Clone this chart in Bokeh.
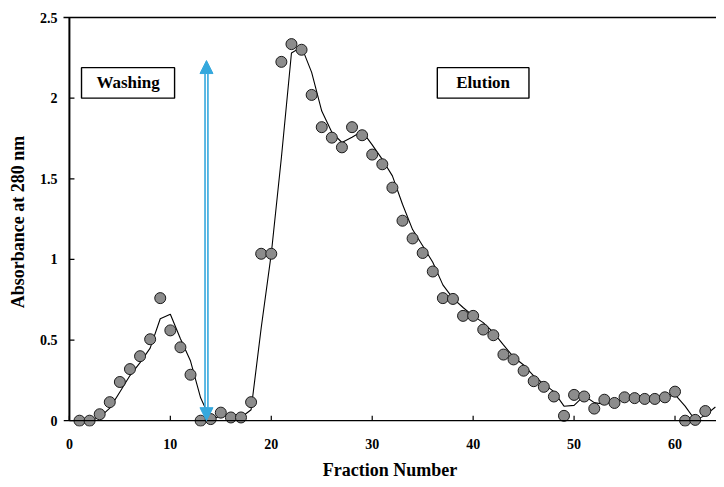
from bokeh.plotting import figure
from bokeh.models import Range1d, LinearAxis, BoxAnnotation, Label, Arrow, NormalHead, FixedTicker, Span
from bokeh.embed import file_html
from bokeh.resources import INLINE

# Measured absorbance (points)
fractions = [1, 2, 3, 4, 5, 6, 7, 8, 9, 10, 11, 12, 13, 14, 15, 16, 17, 18, 19, 20,
             21, 22, 23, 24, 25, 26, 27, 28, 29, 30, 31, 32, 33, 34, 35, 36, 37, 38, 39, 40,
             41, 42, 43, 44, 45, 46, 47, 48, 49, 50, 51, 52, 53, 54, 55, 56, 57, 58, 59, 60,
             61, 62, 63]
absorbance = [0.0, 0.0, 0.04, 0.115, 0.24, 0.32, 0.40, 0.505, 0.76, 0.56,
              0.455, 0.285, 0.0, 0.01, 0.05, 0.02, 0.02, 0.115, 1.035, 1.035,
              2.225, 2.335, 2.30, 2.02, 1.82, 1.755, 1.695, 1.82, 1.77, 1.65,
              1.59, 1.445, 1.24, 1.13, 1.04, 0.925, 0.76, 0.755, 0.65, 0.65,
              0.565, 0.53, 0.41, 0.38, 0.31, 0.245, 0.21, 0.15, 0.03, 0.16,
              0.15, 0.075, 0.13, 0.11, 0.145, 0.14, 0.135, 0.135, 0.145, 0.18,
              0.0, 0.005, 0.06]

# Trend line
line_fractions = [2, 3, 4, 5, 6, 7, 8, 9, 10, 11, 12, 13, 14, 15, 16, 17, 18, 19, 20,
                  21, 22, 23, 24, 25, 26, 27, 28, 29, 30, 31, 32, 33, 34, 35, 36, 37, 38, 39, 40,
                  41, 42, 43, 44, 45, 46, 47, 48, 49, 50, 51, 52, 53, 54, 55, 56, 57, 58, 59, 60,
                  61, 62, 63, 64]
line_values = [0.0, 0.02, 0.078, 0.178, 0.28, 0.36, 0.45, 0.632, 0.66,
               0.508, 0.37, 0.142, 0.005, 0.03, 0.035, 0.02, 0.068, 0.575, 1.035,
               1.63, 2.28, 2.318, 2.16, 1.92, 1.788, 1.725, 1.758, 1.795, 1.71,
               1.62, 1.518, 1.342, 1.185, 1.085, 0.982, 0.842, 0.758, 0.702, 0.65,
               0.608, 0.548, 0.47, 0.395, 0.345, 0.278, 0.228, 0.18, 0.09, 0.095,
               0.155, 0.112, 0.102, 0.12, 0.128, 0.142, 0.138, 0.135, 0.14, 0.162,
               0.09, 0.003, 0.033, 0.085]

x_ticks = [0, 10, 20, 30, 40, 50, 60]
y_ticks = [0, 0.5, 1, 1.5, 2, 2.5]

FONT = "Liberation Serif"
BLUE = "#35a8dd"

p = figure(frame_width=653, frame_height=409, output_backend="svg", toolbar_location=None,
           x_range=Range1d(-0.585, 64.11), y_range=Range1d(-0.036, 2.5),
           min_border_left=63, min_border_right=0, min_border_top=17, min_border_bottom=53,
           x_axis_label="Fraction Number", y_axis_label="Absorbance at 280 nm")
p.outline_line_color = None
p.grid.visible = False
p.background_fill_color = "white"
p.border_fill_color = "white"

for ax in (p.xaxis[0], p.yaxis[0]):
    ax.major_tick_in = 0
    ax.major_tick_out = 0
    ax.minor_tick_line_color = None
    ax.axis_line_color = None
    ax.major_tick_line_color = None
    ax.major_label_text_font = FONT
    ax.major_label_text_font_style = "bold"
    ax.major_label_text_font_size = "14px"
    ax.major_label_text_color = "black"
    ax.axis_label_text_font = FONT
    ax.axis_label_text_font_style = "bold"
    ax.axis_label_text_font_size = "18px"
    ax.axis_label_text_color = "black"

p.xaxis[0].ticker = FixedTicker(ticks=x_ticks)
p.yaxis[0].ticker = FixedTicker(ticks=y_ticks)
p.xaxis[0].major_label_standoff = 12
p.xaxis[0].axis_label_standoff = 8
p.yaxis[0].major_label_standoff = 6
p.yaxis[0].axis_label_standoff = 9

top_axis = LinearAxis(ticker=FixedTicker(ticks=[]), major_tick_line_color=None,
                      minor_tick_line_color=None, major_label_text_font_size="0px",
                      axis_line_color="black", axis_line_width=1.3)
p.add_layout(top_axis, "above")

# axis lines through the origin, with inward ticks
p.add_layout(Span(location=0, dimension="width", line_color="black", line_width=1.3))
p.line(x=[x_ticks[0], x_ticks[0]], y=[y_ticks[0], y_ticks[-1]], line_color="black", line_width=2)
p.segment(x0=x_ticks, y0=[0] * len(x_ticks), x1=x_ticks, y1=[0.031] * len(x_ticks),
          line_color="black", line_width=1.2)
p.segment(x0=[0] * len(y_ticks), y0=y_ticks, x1=[0.5] * len(y_ticks), y1=y_ticks,
          line_color="black", line_width=1.2)

# Trend line and points
p.line(line_fractions, line_values, line_color="black", line_width=1.1)
p.scatter(fractions, absorbance, size=11, fill_color="#8c8c8c", line_color="#1a1a1a", line_width=1)

# Double-headed arrow between washing and elution
arr = Arrow(x_start=13.58, y_start=0.0, x_end=13.58, y_end=2.233,
            start=NormalHead(size=13, fill_color=BLUE, line_color=BLUE),
            end=NormalHead(size=13, fill_color=BLUE, line_color=BLUE),
            line_color=BLUE, line_width=4.5)
p.add_layout(arr)
p.add_layout(Arrow(x_start=13.58, y_start=0.085, x_end=13.58, y_end=2.15, start=None, end=None,
                   line_color="white", line_width=1.3))

# Boxes with labels
for l, r in ((1.2, 10.42), (36.45, 45.53)):
    p.add_layout(BoxAnnotation(left=l, right=r, bottom=2.0, top=2.189,
                               fill_color="white", fill_alpha=1, line_color="black",
                               line_alpha=1, line_width=1.4))
p.add_layout(Label(x=5.81, y=2.0945, text="Washing", text_align="center", text_baseline="middle",
                   text_font=FONT, text_font_style="bold", text_font_size="17px", text_color="black"))
p.add_layout(Label(x=40.99, y=2.0945, text="Elution", text_align="center", text_baseline="middle",
                   text_font=FONT, text_font_style="bold", text_font_size="17px", text_color="black"))

open("out.html", "w").write(file_html(p, INLINE))
